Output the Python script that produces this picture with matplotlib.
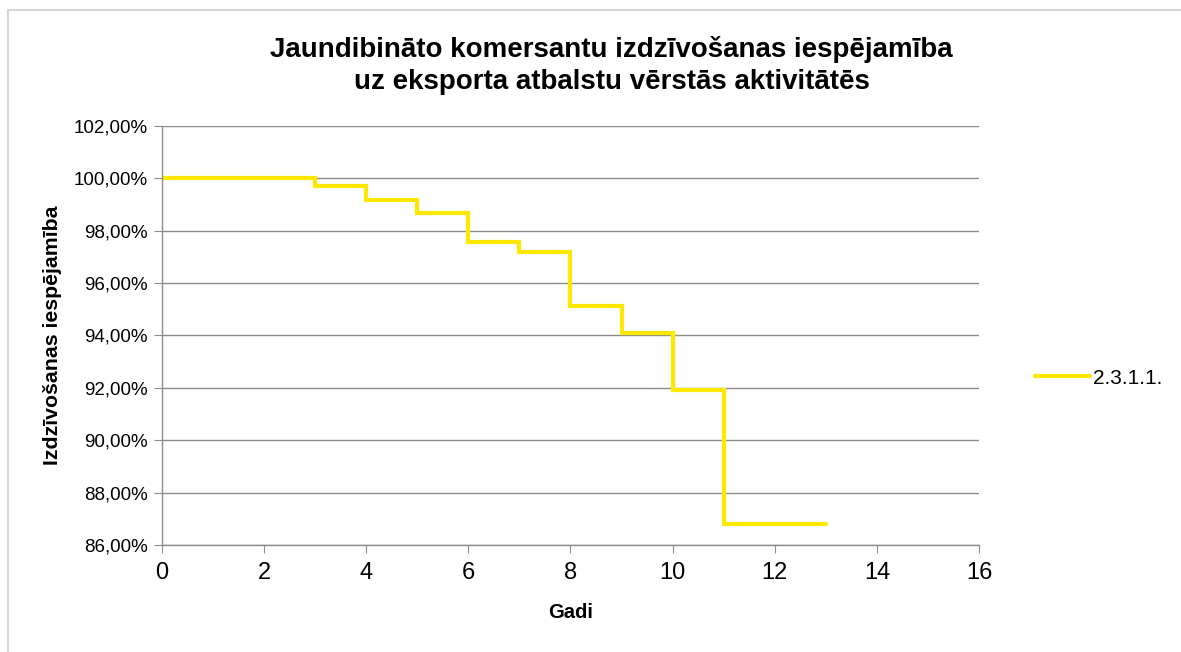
import numpy as np
import matplotlib.pyplot as plt
from matplotlib.patches import Rectangle
from matplotlib.ticker import FuncFormatter

plt.rcParams['font.family'] = ['Liberation Sans', 'DejaVu Sans']

# Data (survival probability, %)
years = [0, 3, 4, 5, 6, 7, 8, 9, 10, 11, 13]
survival = [100.00, 99.69, 99.18, 98.67, 97.55, 97.20, 95.11, 94.09, 91.93, 86.80, 86.80]
series_name = '2.3.1.1.'

title = 'Jaundibināto komersantu izdzīvošanas iespējamība\nuz eksporta atbalstu vērstās aktivitātēs'
xlabel = 'Gadi'
ylabel = 'Izdzīvošanas iespējamība'

grid_col = '#8c8c8c'

fig = plt.figure(figsize=(11.81, 6.52), dpi=100)
ax = fig.add_axes([0.137, 0.164, 0.692, 0.643])

# outer chart border
fig.patches.append(Rectangle((8 / 1181, -0.01), 1.02, 1 - 10 / 652 + 0.01,
                             transform=fig.transFigure, fill=False,
                             edgecolor='#d0d0d0', linewidth=1.2))

ax.step(years, survival, where='post', color='#FFE800', linewidth=3,
        label=series_name, solid_capstyle='round', solid_joinstyle='miter')

ax.set_xlim(0, 16)
ax.set_ylim(86, 102)
ax.set_xticks(np.arange(0, 17, 2))
ax.set_yticks(np.arange(86, 103, 2))
ax.yaxis.set_major_formatter(FuncFormatter(lambda v, p: f'{v:.2f}%'.replace('.', ',')))

ax.grid(axis='y', color=grid_col, linewidth=1)
ax.set_axisbelow(True)
for s in ['top', 'right']:
    ax.spines[s].set_visible(False)
for s in ['left', 'bottom']:
    ax.spines[s].set_color(grid_col)
    ax.spines[s].set_linewidth(1)

ax.tick_params(axis='y', length=6, color=grid_col, labelsize=13.5, pad=4)
ax.tick_params(axis='x', length=6, color=grid_col, labelsize=17, pad=6)

ax.set_xlabel(xlabel, fontsize=14.5, fontweight='bold')
ax.set_ylabel(ylabel, fontsize=15.3, fontweight='bold')
ax.xaxis.set_label_coords(0.5, -0.138)
ax.yaxis.set_label_coords(-0.122, 0.5)
fig.text(0.518, 0.9, title, ha='center', va='center', fontsize=20,
         fontweight='bold', linespacing=1.3)

fig.legend(loc='center left', bbox_to_anchor=(1035 / 1181, 1 - 378 / 652),
           frameon=False, fontsize=15, handlelength=2.65, handletextpad=0.15,
           borderpad=0, borderaxespad=0)

plt.savefig('out.png', dpi=100)
